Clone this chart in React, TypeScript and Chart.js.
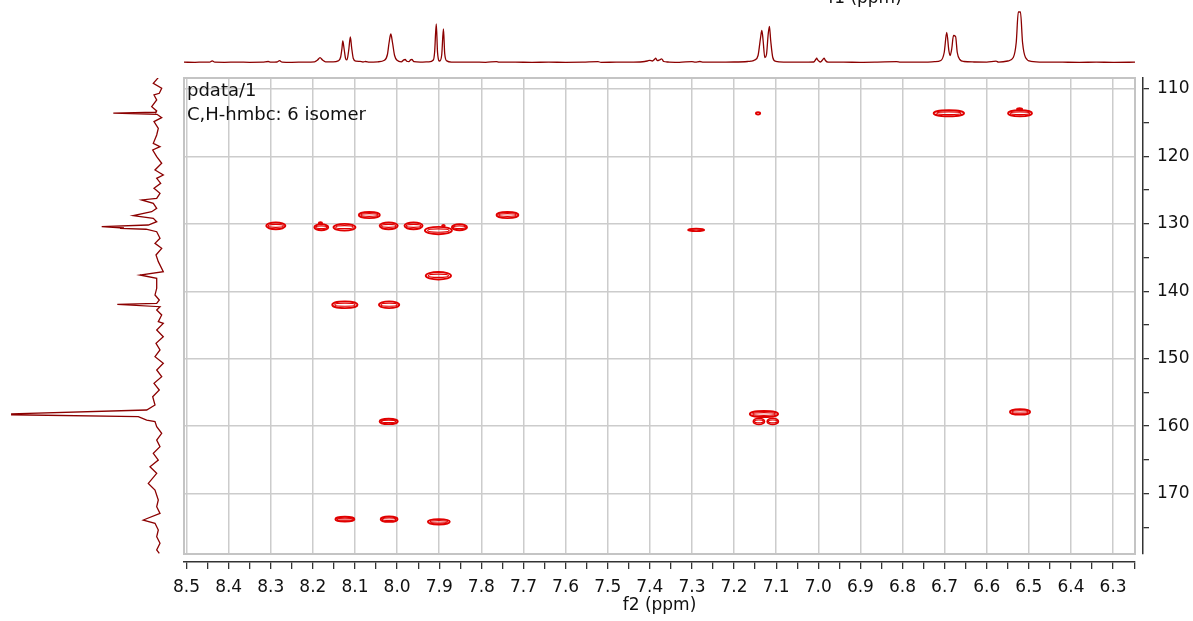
import React, { useEffect, useRef } from "react";
import { Chart, registerables } from "chart.js";

Chart.register(...registerables);

// ---- axis ranges (ppm) ----
const F2_MIN = 6.248;
const F2_MAX = 8.506;
const F1_MIN = 108.37;
const F1_MAX = 178.97;

// ---- annotation text ----
const annotLines = ["pdata/1", "C,H-hmbc: 6 isomer"];
const f1Title = "f1 (ppm)";
const f2Title = "f2 (ppm)";

// ---- 2D cross peaks (HMBC contours) ----
const crossF2 = [7.143, 6.690, 6.521, 6.522, 8.288, 8.180, 8.182, 8.125, 8.066, 8.020, 7.961, 7.902, 7.890, 7.852, 7.738, 7.902, 8.124, 8.019, 7.290, 7.129, 7.141, 7.108, 8.020, 6.521, 8.124, 8.019, 7.901];
const crossF1 = [113.6, 113.6, 113.6, 113.0, 130.3, 130.5, 129.9, 130.5, 128.7, 130.3, 130.3, 131.0, 130.3, 130.5, 128.7, 137.7, 142.0, 142.0, 130.9, 158.2, 159.3, 159.3, 159.3, 157.9, 173.8, 173.8, 174.2];
const crossW = [0.010, 0.072, 0.057, 0.012, 0.045, 0.033, 0.008, 0.052, 0.050, 0.043, 0.043, 0.064, 0.006, 0.036, 0.052, 0.060, 0.060, 0.048, 0.038, 0.067, 0.026, 0.026, 0.043, 0.048, 0.045, 0.040, 0.052];
const crossH = [0.35, 0.9, 0.9, 0.25, 1.0, 0.9, 0.3, 1.0, 0.9, 1.0, 1.0, 1.1, 0.3, 0.9, 0.9, 1.1, 1.0, 1.0, 0.35, 0.9, 0.9, 0.9, 0.8, 0.8, 0.7, 0.8, 0.8];

// ---- 1D proton projection (top) ----
const topPpm = [8.506, 8.48, 8.46, 8.445, 8.439, 8.433, 8.41, 8.38, 8.35, 8.32, 8.306, 8.300, 8.285, 8.279, 8.273, 8.25, 8.22, 8.196, 8.189, 8.183, 8.177, 8.170, 8.152, 8.140, 8.134, 8.131, 8.129, 8.126, 8.122, 8.119, 8.115, 8.111, 8.108, 8.104, 8.098, 8.088, 8.081, 8.075, 8.066, 8.046, 8.030, 8.023, 8.019, 8.015, 8.011, 8.006, 8.000, 7.990, 7.984, 7.981, 7.977, 7.972, 7.968, 7.965, 7.960, 7.945, 7.925, 7.914, 7.911, 7.907, 7.904, 7.899, 7.894, 7.890, 7.887, 7.882, 7.870, 7.85, 7.82, 7.79, 7.764, 7.758, 7.72, 7.68, 7.64, 7.60, 7.56, 7.523, 7.516, 7.48, 7.44, 7.412, 7.406, 7.400, 7.394, 7.388, 7.386, 7.382, 7.377, 7.372, 7.367, 7.357, 7.33, 7.300, 7.292, 7.281, 7.273, 7.24, 7.20, 7.168, 7.160, 7.151, 7.143, 7.137, 7.134, 7.131, 7.127, 7.123, 7.119, 7.116, 7.113, 7.108, 7.101, 7.08, 7.04, 7.011, 7.006, 7.004, 7.001, 6.995, 6.989, 6.986, 6.983, 6.977, 6.94, 6.90, 6.86, 6.814, 6.805, 6.76, 6.724, 6.709, 6.701, 6.695, 6.690, 6.687, 6.683, 6.679, 6.674, 6.670, 6.664, 6.654, 6.63, 6.60, 6.578, 6.572, 6.550, 6.537, 6.530, 6.525, 6.520, 6.515, 6.508, 6.495, 6.46, 6.42, 6.38, 6.34, 6.30, 6.248];
const topInt = [0.3, 0.2, 0.4, 0.3, 1.6, 0.3, 0.2, 0.4, 0.2, 0.3, 1.0, 0.3, 0.5, 1.8, 0.4, 0.2, 0.4, 0.7, 2.5, 4.8, 2.4, 0.6, 0.6, 1.6, 5.5, 14, 21.5, 14, 3.5, 2.6, 12, 25.5, 15, 4, 1.3, 1.1, 0.5, 1.0, 0.4, 0.7, 2.2, 8, 20, 28.5, 20, 7, 2.2, 0.7, 2.6, 3, 1.2, 0.8, 2.6, 3, 0.8, 0.4, 0.7, 2.5, 10, 38.5, 10, 1.5, 8, 33.5, 9, 1.6, 0.4, 0.3, 0.4, 0.2, 0.9, 0.3, 0.3, 0.2, 0.3, 0.2, 0.3, 0.8, 0.2, 0.3, 0.4, 1.0, 1.5, 2.2, 1.5, 3.5, 4.3, 1.8, 2.5, 3.7, 1.0, 0.5, 0.2, 0.9, 0.4, 1.0, 0.3, 0.3, 0.5, 1.0, 1.3, 2.5, 7, 25, 32, 22, 5, 8, 28, 36, 22, 5, 1.2, 0.4, 0.3, 0.5, 3, 4.3, 2.5, 0.5, 3, 4.3, 2, 0.3, 0.3, 0.2, 0.4, 0.8, 0.3, 0.3, 0.8, 2, 10, 30, 12, 7, 14, 27, 26, 10, 3, 1, 0.5, 0.4, 1.3, 0.4, 1.5, 5, 20, 50.5, 50.5, 20, 5, 1.2, 0.4, 0.3, 0.2, 0.3, 0.2, 0.3];

// ---- 1D carbon projection (left) ----
const leftPpm = [108.32, 109.15, 109.9, 110.64, 110.89, 111.63, 112.62, 113.26, 113.45, 113.58, 113.75, 114.25, 114.84, 115.83, 116.82, 118.06, 118.55, 119.05, 120.04, 121.02, 122.01, 122.76, 123.25, 123.99, 124.73, 125.47, 126.22, 126.46, 126.96, 127.7, 128.2, 128.79, 129.18, 129.68, 130.17, 130.42, 130.62, 130.68, 130.8, 131.17, 132.15, 132.89, 133.63, 134.62, 135.61, 137.1, 137.59, 138.08, 139.56, 140.55, 141.3, 141.79, 141.94, 142.29, 142.78, 143.52, 144.51, 144.76, 145.75, 146.74, 147.72, 148.71, 149.71, 150.69, 151.68, 152.67, 153.65, 154.65, 155.64, 156.87, 157.61, 158.18, 158.32, 158.6, 159.1, 159.34, 160.08, 161.07, 162.06, 163.05, 164.03, 165.03, 166.02, 167.0, 168.49, 169.48, 170.96, 171.95, 172.94, 173.93, 174.42, 175.41, 176.4, 177.38, 178.38, 178.87];
const leftInt = [1.7, 6.7, -1.7, 0.7, 6, 3.3, 8.3, 3.3, 4, 46.7, 3, -1.7, 6, 1.7, 3.3, 6.7, 0, 7.3, 3.3, -1.7, 5, -3.3, 3.3, -0.7, 6, 0, 3.3, 18.3, 6.7, 3.3, 8.3, 26.7, 6.7, 3.3, 11.7, 58.3, 36, 40, 14, 3.3, 0, 5, -1.7, 4, 1.7, -3.3, 20, 3.3, 3.3, 5, 0.7, 3.3, 42.7, 0, 3.3, -1.7, 1.7, -3.3, 3.3, -3.3, 4, 0, 5, -3.3, 3.3, -1.7, 6, 0.7, 7.3, 5, 13.3, 148.3, 148.3, 21.7, 13.3, 5, 3.3, -1.7, 3.3, 0, 6.7, 1.7, 10, 3.3, 11.7, 5, 1.7, 3.3, 0, 16.7, 5, 1.7, 3.3, 0, 3.3, 0.7];

// ---- styles ----
const FONT_FAMILY = '"DejaVu Sans", Verdana, sans-serif';
const tickFont = { family: FONT_FAMILY, size: 17 };
const GRID = "#cccccc";
const AXIS = "#333333";
const TRACE = "#8b0000";
const CONTOUR = "#e00000";

const isMult = (v: number, step: number) => Math.abs(v / step - Math.round(v / step)) < 1e-6;

const contourPlugin = {
  id: "contours",
  afterDatasetsDraw(chart: any) {
    const meta = chart.getDatasetMeta(0);
    const xs = chart.scales.x;
    const ys = chart.scales.y;
    const ctx = chart.ctx;
    const a = chart.chartArea;
    ctx.save();
    ctx.beginPath();
    ctx.rect(a.left, a.top, a.right - a.left, a.bottom - a.top);
    ctx.clip();
    ctx.strokeStyle = CONTOUR;
    meta.data.forEach((pt: any, i: number) => {
      const cx = pt.x;
      const cy = pt.y;
      const rx = Math.abs(xs.getPixelForValue(crossF2[i] + crossW[i] / 2) - cx);
      const ry = Math.abs(ys.getPixelForValue(crossF1[i] + crossH[i] / 2) - cy);
      ctx.lineWidth = 1.9;
      ctx.beginPath();
      ctx.ellipse(cx, cy, Math.max(rx, 0.9), Math.max(ry, 0.9), 0, 0, Math.PI * 2);
      ctx.stroke();
      if (rx > 5 && ry > 2) {
        ctx.lineWidth = 1.2;
        ctx.beginPath();
        ctx.ellipse(cx, cy, rx * 0.8, ry * 0.45, 0, 0, Math.PI * 2);
        ctx.stroke();
      }
    });
    ctx.restore();
  },
};

const annotPlugin = {
  id: "annot",
  beforeDatasetsDraw(chart: any) {
    const { ctx, chartArea: a } = chart;
    ctx.save();
    ctx.strokeStyle = "#c4c4c4";
    ctx.lineWidth = 2;
    ctx.strokeRect(a.left, a.top, a.right - a.left, a.bottom - a.top);
    ctx.restore();
  },
  afterDraw(chart: any) {
    const { ctx, chartArea: a } = chart;
    ctx.save();
    ctx.fillStyle = "#111";
    ctx.textAlign = "left";
    ctx.textBaseline = "alphabetic";
    ctx.font = `18px ${FONT_FAMILY}`;
    ctx.fillText(annotLines[0], a.left + 3, a.top + 18);
    ctx.fillText(annotLines[1], a.left + 3, a.top + 42);
    ctx.font = `17px ${FONT_FAMILY}`;
    ctx.textAlign = "center";
    ctx.fillText(f1Title, 865, 3);
    ctx.restore();
  },
};

function mainConfig(): any {
  return {
    type: "scatter",
    data: {
      datasets: [
        {
          data: crossF2.map((x, i) => ({ x, y: crossF1[i] })),
          pointRadius: 0,
          showLine: false,
        },
      ],
    },
    options: {
      animation: false,
      responsive: false,
      maintainAspectRatio: false,
      layout: { padding: { left: 184, top: 78, right: 0, bottom: 0 } },
      plugins: { legend: { display: false }, tooltip: { enabled: false } },
      scales: {
        x: {
          type: "linear", min: F2_MIN, max: F2_MAX, reverse: true, position: "bottom", weight: 0,
          ticks: { display: false, stepSize: 0.1, includeBounds: false },
          grid: { color: GRID, lineWidth: 1.5, drawTicks: false },
          border: { display: false },
          afterBuildTicks: (s: any) => { s.ticks = s.ticks.filter((t: any) => isMult(t.value, 0.1)); },
          afterFit: (s: any) => { s.height = 8; },
        },
        xAxis: {
          type: "linear", min: F2_MIN, max: F2_MAX, reverse: true, position: "bottom", weight: 1,
          ticks: {
            stepSize: 0.05, includeBounds: false, autoSkip: false, maxRotation: 0, minRotation: 0,
            font: tickFont, color: "#111", padding: 8,
            callback: (v: any) => (isMult(Number(v), 0.1) ? Number(v).toFixed(1) : ""),
          },
          grid: { drawOnChartArea: false, drawTicks: true, tickLength: 7, color: AXIS, lineWidth: 1.3 },
          border: { display: true, color: AXIS, width: 1.5 },
          title: { display: true, text: f2Title, font: tickFont, color: "#111", padding: { top: 0, bottom: 5 } },
          afterBuildTicks: (s: any) => { s.ticks = s.ticks.filter((t: any) => isMult(t.value, 0.05)); },
          afterFit: (s: any) => { s.height = 59; },
        },
        y: {
          type: "linear", min: F1_MIN, max: F1_MAX, reverse: true, position: "right", weight: 0,
          ticks: { display: false, stepSize: 10, includeBounds: false },
          grid: { color: GRID, lineWidth: 1.5, drawTicks: false },
          border: { display: false },
          afterBuildTicks: (s: any) => { s.ticks = s.ticks.filter((t: any) => isMult(t.value, 10)); },
          afterFit: (s: any) => { s.width = 8; },
        },
        yAxis: {
          type: "linear", min: F1_MIN, max: F1_MAX, reverse: true, position: "right", weight: 1,
          ticks: {
            stepSize: 5, includeBounds: false, autoSkip: false,
            font: tickFont, color: "#111", padding: 8,
            callback: (v: any) => (isMult(Number(v), 10) ? String(Math.round(Number(v))) : ""),
          },
          grid: { drawOnChartArea: false, drawTicks: true, tickLength: 6, color: AXIS, lineWidth: 1.3 },
          border: { display: true, color: AXIS, width: 1.5 },
          afterBuildTicks: (s: any) => { s.ticks = s.ticks.filter((t: any) => isMult(t.value, 5)); },
          afterFit: (s: any) => { s.width = 50; },
        },
      },
    },
    plugins: [annotPlugin, contourPlugin],
  };
}

function topConfig(): any {
  return {
    type: "line",
    data: {
      datasets: [
        {
          data: topPpm.map((x, i) => ({ x, y: topInt[i] })),
          borderColor: TRACE,
          borderWidth: 1.3,
          pointRadius: 0,
          cubicInterpolationMode: "monotone",
          fill: false,
        },
      ],
    },
    options: {
      animation: false,
      responsive: false,
      maintainAspectRatio: false,
      layout: { padding: 0 },
      plugins: { legend: { display: false }, tooltip: { enabled: false } },
      scales: {
        x: { type: "linear", min: F2_MIN, max: F2_MAX, reverse: true, display: false },
        y: { type: "linear", min: -12.5, max: 62.5, display: false },
      },
    },
  };
}

function leftConfig(): any {
  return {
    type: "scatter",
    data: {
      datasets: [
        {
          data: leftPpm.map((y, i) => ({ x: leftInt[i], y })),
          borderColor: TRACE,
          borderWidth: 1.3,
          pointRadius: 0,
          showLine: true,
          tension: 0,
        },
      ],
    },
    options: {
      animation: false,
      responsive: false,
      maintainAspectRatio: false,
      layout: { padding: 0 },
      plugins: { legend: { display: false }, tooltip: { enabled: false } },
      scales: {
        x: { type: "linear", min: -24, max: 160, reverse: true, display: false },
        y: { type: "linear", min: F1_MIN, max: F1_MAX, reverse: true, display: false },
      },
    },
  };
}

export default function App() {
  const mainRef = useRef<HTMLCanvasElement>(null);
  const topRef = useRef<HTMLCanvasElement>(null);
  const leftRef = useRef<HTMLCanvasElement>(null);

  useEffect(() => {
    const charts = [
      new Chart(mainRef.current as HTMLCanvasElement, mainConfig()),
      new Chart(topRef.current as HTMLCanvasElement, topConfig()),
      new Chart(leftRef.current as HTMLCanvasElement, leftConfig()),
    ];
    return () => charts.forEach((c) => c.destroy());
  }, []);

  return (
    <div style={{ position: "fixed", left: 0, top: 0, width: 1193, height: 621, background: "#fff", overflow: "hidden" }}>
      <canvas ref={mainRef} width={1193} height={621} style={{ position: "absolute", left: 0, top: 0, width: 1193, height: 621 }} />
      <canvas ref={topRef} width={951} height={75} style={{ position: "absolute", left: 184, top: 0, width: 951, height: 75 }} />
      <canvas ref={leftRef} width={184} height={476} style={{ position: "absolute", left: 0, top: 78, width: 184, height: 476 }} />
    </div>
  );
}
